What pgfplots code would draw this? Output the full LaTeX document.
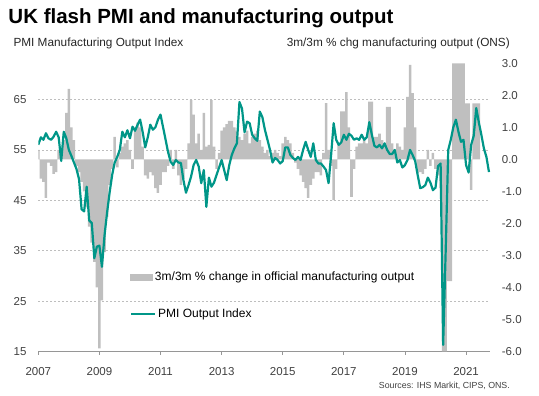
\documentclass[border=0pt]{standalone}
\usepackage{pgfplots}
\pgfplotsset{compat=1.18}
\usepackage{pgfplotstable}
\usepackage{fontspec}
\setmainfont{Liberation Sans}
\definecolor{pmiteal}{RGB}{0,150,136}
\definecolor{bargray}{RGB}{191,191,191}
\definecolor{gridgray}{RGB}{190,190,190}
\definecolor{axisgray}{RGB}{150,150,150}
\definecolor{labgray}{RGB}{64,64,64}

% month index 0 = Jan 2007; 3m/3m % change (right axis)
\pgfplotstableread{
m v
0 0.3
1 -0.6
2 -0.7
3 -1.2
4 -0.1
5 -0.2
6 -0.45
7 -0.4
8 0.3
9 0.3
10 0.6
11 1.45
12 2.2
13 1.0
14 0.6
15 -0.2
16 -0.4
17 -0.7
18 -1.0
19 -1.5
20 -2.1
21 -2.6
22 -3.2
23 -4.0
24 -5.9
25 -4.4
26 -2.9
27 -1.8
28 -0.8
29 -0.3
30 0.7
31 -0.25
32 0.2
33 0.4
34 0.5
35 0.6
36 0.3
37 -0.3
38 1.0
39 1.15
40 1.0
41 0.4
42 -0.5
43 -0.6
44 -0.4
45 -0.5
46 -0.9
47 -1.05
48 -0.8
49 -0.4
50 -0.4
51 -0.2
52 0.3
53 -0.3
54 0.3
55 -0.5
56 -0.8
57 -0.6
58 -0.3
59 0.5
60 1.85
61 1.4
62 0.5
63 0.8
64 0.3
65 1.45
66 0.4
67 0.45
68 1.85
69 0.4
70 -0.3
71 0.2
72 0.9
73 1.0
74 1.1
75 1.2
76 1.2
77 1.0
78 0.9
79 0.7
80 0.6
81 0.8
82 0.9
83 0.5
84 0.7
85 0.8
86 0.9
87 0.6
88 0.4
89 0.2
90 0.3
91 0.1
92 0.2
93 0.3
94 0.2
95 0.1
96 0.5
97 0.7
98 0.6
99 0.5
100 0.2
101 -0.1
102 -0.3
103 -0.5
104 -0.7
105 -0.9
106 -1.2
107 -0.8
108 -0.6
109 -0.4
110 -0.4
111 -0.5
112 0.2
113 1.76
114 0.3
115 -0.2
116 -1.27
117 -0.3
118 0.5
119 1.5
120 1.5
121 2.1
122 1.0
123 -1.17
124 -0.3
125 0.4
126 0.5
127 0.5
128 0.6
129 0.5
130 1.8
131 1.8
132 0.7
133 0.7
134 0.8
135 0.6
136 0.5
137 1.64
138 1.64
139 0.5
140 0.3
141 0.5
142 0.4
143 0.3
144 1.0
145 1.95
146 2.95
147 2.07
148 1.0
149 -0.43
150 -0.4
151 -0.45
152 -0.3
153 0.3
154 -0.2
155 0.2
156 -0.3
157 -0.5
158 -0.9
159 -6.0
160 -6.0
161 -3.8
162 -3.8
163 3.0
164 3.0
165 3.0
166 3.0
167 3.0
168 1.75
169 1.75
170 -0.95
171 1.75
172 1.75
173 1.75
}\bardata

% PMI Output Index (left axis)
\pgfplotstableread{
m v
0 56.0
1 57.5
2 57.0
3 58.3
4 57.3
5 57.0
6 57.6
7 58.6
8 57.5
9 52.8
10 58.6
11 57.3
12 55.0
13 53.8
14 52.5
15 51.2
16 49.2
17 43.2
18 42.8
19 47.7
20 41.0
21 40.5
22 33.5
23 35.8
24 36.0
25 31.8
26 38.0
27 42.5
28 46.5
29 50.0
30 52.5
31 53.6
32 55.0
33 58.6
34 57.5
35 58.9
36 57.3
37 59.6
38 58.8
39 60.0
40 61.0
41 58.5
42 55.5
43 57.5
44 60.0
45 59.0
46 59.5
47 61.0
48 62.0
49 59.5
50 57.0
51 54.5
52 52.6
53 52.0
54 53.0
55 52.5
56 52.4
57 49.0
58 46.5
59 48.0
60 49.7
61 52.0
62 53.0
63 51.7
64 48.4
65 51.0
66 43.7
67 49.5
68 47.7
69 48.5
70 50.0
71 51.5
72 53.0
73 51.0
74 49.0
75 52.0
76 54.0
77 55.3
78 56.3
79 64.5
80 63.2
81 58.5
82 60.6
83 60.3
84 58.0
85 57.3
86 56.8
87 62.6
88 61.5
89 59.0
90 57.0
91 55.0
92 52.5
93 53.4
94 53.0
95 52.3
96 52.8
97 55.5
98 55.5
99 54.0
100 53.4
101 53.0
102 53.6
103 53.0
104 55.0
105 56.6
106 55.0
107 53.6
108 56.3
109 53.0
110 52.3
111 52.3
112 51.7
113 51.0
114 48.4
115 54.0
116 60.3
117 57.0
118 56.0
119 56.5
120 58.0
121 57.0
122 58.2
123 57.8
124 57.0
125 57.3
126 57.0
127 58.0
128 57.0
129 57.5
130 60.5
131 58.0
132 55.8
133 55.5
134 56.0
135 55.3
136 56.3
137 55.0
138 54.2
139 54.2
140 55.0
141 52.5
142 53.0
143 51.5
144 52.0
145 53.0
146 55.0
147 54.0
148 52.8
149 50.0
150 47.4
151 47.6
152 48.0
153 49.5
154 48.5
155 47.0
156 47.5
157 51.8
158 52.3
159 16.3
160 35.0
161 55.0
162 57.0
163 59.5
164 61.0
165 58.6
166 56.6
167 57.0
168 52.0
169 50.5
170 56.0
171 57.8
172 63.3
173 60.5
174 58.0
175 55.3
176 53.6
177 50.6
}\pmidata

\pgfplotsset{
  base/.style={
    scale only axis, width=451.7pt, height=288.2pt,
    at={(38.3pt,44.5pt)}, anchor=south west,
    xmin=0, xmax=177.4,
    tick label style={font=\fontsize{11.5}{13}\selectfont, text=labgray},
    legend style={font=\fontsize{12}{14}\selectfont, draw=none, fill=none, inner sep=0pt, outer sep=0pt,
      legend cell align=left, cells={anchor=west}},
  },
}

\begin{document}
\begin{tikzpicture}
\path[use as bounding box] (0,0) rectangle (539pt,396pt);

% Axis A: left scale, grid, x axis
\begin{axis}[base,
  ymin=15, ymax=72.18,
  axis lines*=left,
  y axis line style={draw=none},
  x axis line style={axisgray, line width=0.8pt},
  ytick={15,25,35,45,55,65},
  yticklabels={15,25,35,45,55,65},
  ymajorgrids,
  grid style={gridgray, dash pattern=on 2pt off 2pt, line width=0.6pt},
  major y tick style={draw=none},
  yticklabel style={anchor=east, inner sep=0pt, xshift=-11.6pt},
  xtick={0,24,48,72,96,120,144,168},
  xticklabels={2007,2009,2011,2013,2015,2017,2019,2021},
  xtick align=outside,
  major x tick style={axisgray, line width=0.8pt},
  major tick length=3.5pt,
  xticklabel style={anchor=base, inner sep=0pt, yshift=-20.2pt},
]
\addplot[draw=none, forget plot] coordinates {(0,15)};
\end{axis}

% Axis B: bars, right scale
\begin{axis}[base,
  ymin=-6, ymax=3,
  axis x line=none,
  axis y line*=right,
  y axis line style={draw=none},
  major y tick style={draw=none},
  ytick={-6,-5,-4,-3,-2,-1,0,1,2,3},
  yticklabels={-6.0,-5.0,-4.0,-3.0,-2.0,-1.0,0.0,1.0,2.0,3.0},
  yticklabel style={anchor=west, inner sep=0pt, xshift=11.7pt},
  legend style={at={(0.2030,0.2575)}, anchor=west},
]
\addplot[ybar, bar width=1, fill=bargray, draw=none,
  legend image code/.code={\fill[bargray] (0pt,-3.3pt) rectangle (23pt,3.3pt);}]
  table[x=m, y=v]{\bardata};
\addlegendentry{3m/3m \% change in official manufacturing output}
\end{axis}

% Axis C: PMI line, left scale
\begin{axis}[base,
  ymin=15, ymax=72.18,
  hide axis,
  legend style={at={(0.2030,0.1300)}, anchor=west},
]
\addplot[pmiteal, line width=2.2pt, line join=round,
  legend image code/.code={\draw[pmiteal, line width=2.2pt] (0pt,0pt) -- (24pt,0pt);}]
  table[x=m, y=v]{\pmidata};
\addlegendentry{PMI Output Index}
\end{axis}

\node[anchor=base west, inner sep=0pt, font=\bfseries\fontsize{20.5}{24}\selectfont] at (8.3pt,372pt) {UK flash PMI and manufacturing output};
\node[anchor=base west, inner sep=0pt, font=\fontsize{11.8}{14}\selectfont, text=black!85] at (13.3pt,349pt) {PMI Manufacturing Output Index};
\node[anchor=base east, inner sep=0pt, font=\fontsize{11.8}{14}\selectfont, text=black!85] at (510pt,349pt) {3m/3m \% chg manufacturing output (ONS)};
\node[anchor=base east, inner sep=0pt, font=\fontsize{8.8}{10}\selectfont, text=labgray] at (510pt,7.5pt) {Sources: IHS Markit, CIPS, ONS.};
\end{tikzpicture}
\end{document}
